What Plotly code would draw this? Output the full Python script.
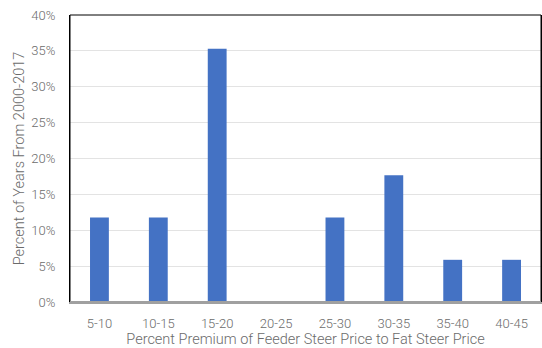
import plotly.graph_objects as go

categories = ["5-10", "10-15", "15-20", "20-25", "25-30", "30-35", "35-40", "40-45"]
percent_of_years = [11.76, 11.76, 35.29, 0, 11.76, 17.65, 5.88, 5.88]
y_ticks = [0, 5, 10, 15, 20, 25, 30, 35, 40]
y_tick_labels = [f"{t}%" for t in y_ticks]

fig = go.Figure(go.Bar(x=categories, y=percent_of_years, marker_color="#4472C4",
                       marker_line_width=0, width=0.32))

fig.update_layout(
    width=542, height=348,
    margin=dict(l=70, r=1, t=15, b=46),
    paper_bgcolor="white", plot_bgcolor="white",
    font=dict(family="Roboto", size=12, color="#6b6b6b", weight=300),
    showlegend=False,
)
fig.update_yaxes(range=[0, 40], tickvals=y_ticks, ticktext=y_tick_labels,
                 showgrid=True, gridcolor="#E3E3E3", gridwidth=1,
                 showline=True, linecolor="black", linewidth=1, mirror=True,
                 ticks="", zeroline=False, ticklabelstandoff=11,
                 tickfont=dict(size=13, color="#6b6b6b", weight=300),
                 title=dict(text="Percent of Years From 2000-2017",
                            font=dict(size=14.5, color="#6b6b6b", weight=300), standoff=3))
fig.update_xaxes(showline=True, linecolor="#A0A0A0", linewidth=2,
                 ticks="", showgrid=False, ticklabelstandoff=8,
                 tickfont=dict(size=13, color="#6b6b6b", weight=300),
                 title=dict(text="Percent Premium of Feeder Steer Price to Fat Steer Price",
                            font=dict(size=14.5, color="#6b6b6b", weight=300), standoff=3))
fig.add_shape(type="rect", xref="paper", yref="paper", x0=0, x1=1, y0=0, y1=1,
              line=dict(color="black", width=1), layer="above")
fig.add_shape(type="line", xref="paper", yref="paper", x0=0, x1=1, y0=0, y1=0,
              line=dict(color="#A0A0A0", width=2), layer="above")

fig.write_html("out.html")
